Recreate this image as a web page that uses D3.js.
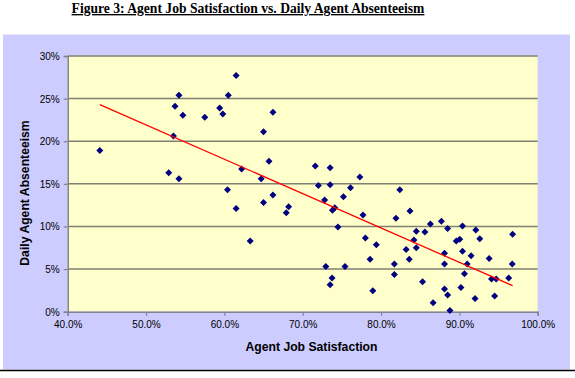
<!DOCTYPE html>
<html>
<head>
<meta charset="utf-8">
<script src="https://cdn.jsdelivr.net/npm/d3@7"></script>
<style>
  html, body { margin: 0; padding: 0; background: #ffffff; }
  svg { display: block; }
</style>
</head>
<body>
<svg id="chart" width="575" height="378"></svg>
<script>
// ---- data ----
const satisfaction = [
  44.1, 54.2, 53.7, 54.7, 57.5, 59.4, 59.8, 53.5, 52.9, 54.2,
  60.5, 61.5, 66.2, 65.0, 65.7, 62.2, 64.7, 71.6, 73.5, 77.3,
  60.4, 61.5, 63.3, 65.0, 66.2, 68.2, 67.9, 72.0, 73.5, 76.1,
  72.8, 75.2, 73.8, 74.1, 77.7, 74.5, 78.0, 79.4, 78.6, 72.95,
  75.4, 73.75, 73.5, 78.95, 82.4, 81.9, 83.7, 84.5, 85.6, 84.2,
  84.5, 83.2, 83.6, 81.7, 81.7, 85.3, 86.65, 86.3, 87.7, 88.5,
  90.4, 92.1, 92.6, 89.6, 90.05, 90.4, 91.5, 88.1, 88.1, 91.0,
  90.65, 93.8, 94.1, 94.7, 96.3, 96.8, 96.75, 88.1, 88.5, 88.8,
  90.2, 92.0, 94.5
];
const absenteeism = [
  18.9, 25.4, 24.1, 23.05, 22.8, 23.9, 23.2, 20.6, 16.3, 15.6,
  25.4, 27.7, 23.4, 21.1, 17.65, 16.75, 15.6, 17.1, 16.9, 15.8,
  14.3, 12.1, 8.3, 12.8, 13.7, 12.3, 11.6, 14.8, 14.9, 14.55,
  13.1, 13.5, 11.9, 12.2, 11.35, 9.95, 8.65, 7.85, 6.15, 5.3,
  5.3, 3.95, 3.15, 2.45, 14.3, 10.95, 11.8, 9.45, 9.35, 8.4,
  7.5, 7.3, 6.15, 5.6, 4.35, 3.5, 1.05, 10.3, 10.6, 9.75,
  10.05, 9.6, 8.55, 8.3, 8.5, 7.1, 6.55, 6.85, 5.6, 5.6,
  4.45, 6.25, 3.85, 3.85, 3.95, 9.1, 5.6, 2.65, 1.95, 0.15,
  2.85, 1.55, 1.85
];
const trendX = [44.1, 96.8];
const trendY = [24.3, 3.05];
const xTicks = [40, 50, 60, 70, 80, 90, 100];
const yTicks = [0, 5, 10, 15, 20, 25, 30];
const titleText = "Figure 3: Agent Job Satisfaction vs. Daily Agent Absenteeism";
const xTitle = "Agent Job Satisfaction";
const yTitle = "Daily Agent Absenteeism";

// ---- layout ----
const svg = d3.select("#chart");
const plot = { left: 67.7, right: 537.7, top: 56, bottom: 311.7 };

const x = d3.scaleLinear().domain([40, 100]).range([plot.left, plot.right]);
const y = d3.scaleLinear().domain([0, 30]).range([plot.bottom, plot.top]);

// title
svg.append("text")
  .attr("x", 248).attr("y", 13)
  .attr("text-anchor", "middle")
  .attr("font-family", "'Liberation Serif', 'Times New Roman', serif")
  .attr("font-weight", "bold")
  .attr("font-size", 13.6)
  .attr("text-decoration", "underline")
  .attr("fill", "#000")
  .text(titleText);

// chart area background
svg.append("rect")
  .attr("x", 3).attr("y", 34.5).attr("width", 567).attr("height", 335)
  .attr("fill", "#ccccff");
svg.append("line")
  .attr("x1", 0).attr("x2", 575).attr("y1", 370.5).attr("y2", 370.5)
  .attr("stroke", "#000").attr("stroke-width", 1.5);

// plot area
svg.append("rect")
  .attr("x", plot.left).attr("y", plot.top)
  .attr("width", plot.right - plot.left).attr("height", plot.bottom - plot.top)
  .attr("fill", "#ffffcc")
  .attr("stroke", "#e8e8e0").attr("stroke-width", 1);

// gridlines
svg.append("g").selectAll("line")
  .data(yTicks.filter(d => d > 0))
  .join("line")
  .attr("x1", plot.left).attr("x2", plot.right)
  .attr("y1", d => y(d)).attr("y2", d => y(d))
  .attr("stroke", "#7f7f72").attr("stroke-width", 1.5);

// axes
const fmtY = d => d + "%";
const fmtX = d => d.toFixed(1) + "%";

const yAxis = svg.append("g")
  .attr("transform", `translate(${plot.left},0)`)
  .call(d3.axisLeft(y).tickValues(yTicks).tickFormat(fmtY).tickSize(4).tickPadding(4));
const xAxis = svg.append("g")
  .attr("transform", `translate(0,${plot.bottom})`)
  .call(d3.axisBottom(x).tickValues(xTicks).tickFormat(fmtX).tickSize(4).tickPadding(4));

[xAxis, yAxis].forEach(g => {
  g.select(".domain").attr("stroke", "#808090").attr("stroke-width", 1.5);
  g.selectAll(".tick line").attr("stroke", "#808090").attr("stroke-width", 1.2);
  g.selectAll(".tick text")
    .attr("font-family", "'Liberation Sans', Arial, sans-serif")
    .attr("font-size", 10)
    .attr("fill", "#000");
});
xAxis.selectAll(".tick text").attr("dy", "0.85em");
yAxis.selectAll(".tick text").attr("dy", "0.35em");

// axis titles
svg.append("text")
  .attr("x", 311.5).attr("y", 351)
  .attr("text-anchor", "middle")
  .attr("font-family", "'Liberation Sans', Arial, sans-serif")
  .attr("font-weight", "bold").attr("font-size", 12.2)
  .attr("fill", "#000")
  .text(xTitle);
svg.append("text")
  .attr("transform", "translate(29,193) rotate(-90)")
  .attr("text-anchor", "middle")
  .attr("font-family", "'Liberation Sans', Arial, sans-serif")
  .attr("font-weight", "bold").attr("font-size", 12.2)
  .attr("fill", "#000")
  .text(yTitle);

// points
const points = satisfaction.map((s, i) => ({ s, a: absenteeism[i] }));
const diamond = "M0,-3.5L3.5,0L0,3.5L-3.5,0Z";
svg.append("g").selectAll("path")
  .data(points)
  .join("path")
  .attr("transform", d => `translate(${x(d.s)},${y(d.a)})`)
  .attr("d", diamond)
  .attr("fill", "#000080");

// trend line
const trend = trendX.map((t, i) => [t, trendY[i]]);
svg.append("path")
  .datum(trend)
  .attr("d", d3.line().x(d => x(d[0])).y(d => y(d[1])))
  .attr("stroke", "#ff0000").attr("stroke-width", 1.3).attr("fill", "none");
</script>
</body>
</html>
